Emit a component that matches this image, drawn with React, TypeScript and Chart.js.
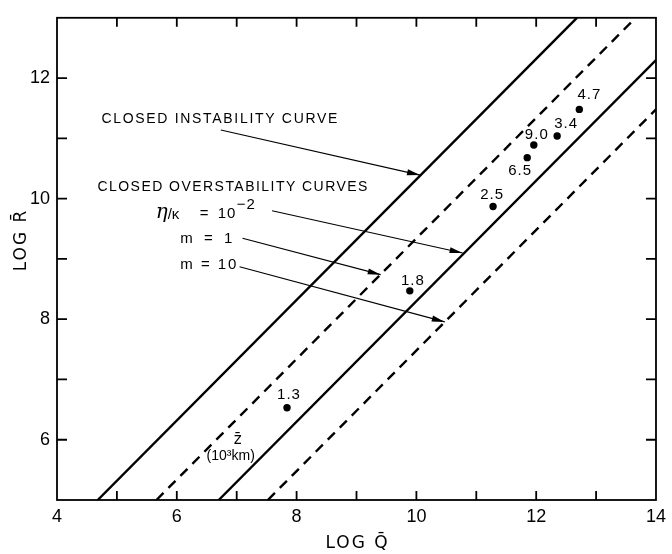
import { useEffect, useRef } from 'react';
import { Chart, registerables } from 'chart.js';

Chart.register(...registerables);

// ---- axis ticks ----
const xTickValues = [4, 6, 8, 10, 12, 14];
const yTickValues = [6, 8, 10, 12];
const xMinorTicks = [5, 6, 7, 8, 9, 10, 11, 12, 13];
const yMinorTicks = [6, 7, 8, 9, 10, 11, 12];

// ---- curves (endpoints, log Q vs log R) ----
const instabilityQ = [4.68, 12.68];
const instabilityR = [5, 13];
const overstabEtaQ = [6.7, 14];
const overstabEtaR = [5, 12.3];
const overstabM1Q = [5.66, 13.66];
const overstabM1R = [5, 13];
const overstabM10Q = [7.52, 14];
const overstabM10R = [5, 11.48];

// ---- observed points ----
const pointQ = [7.84, 9.89, 11.28, 11.85, 11.96, 12.35, 12.72];
const pointR = [6.53, 8.47, 9.87, 10.68, 10.89, 11.04, 11.48];
const pointLabels = ['1.3', '1.8', '2.5', '6.5', '9.0', '3.4', '4.7'];

// ---- annotation texts ----
const instabilityText = 'CLOSED INSTABILITY CURVE';
const overstabText = 'CLOSED OVERSTABILITY CURVES';
const m1Text = 'm = 1';
const m10Text = 'm = 10';
const zText = 'z̄';
const zUnitText = '(10³km)';
const xTitle = 'LOG Q̄';
const yTitle = 'LOG R̄';

const toXY = (qs: number[], rs: number[]) => qs.map((q, i) => ({ x: q, y: rs[i] }));

const FONT = '"Liberation Sans", Arial, sans-serif';

// label offsets for points (pixels): style only
const labelOffsets: [number, number][] = [
  [2, -13], [3, -10], [-1, -12], [-7, 13], [3, -10], [9, -12], [10, -15],
];

function fitText(ctx: CanvasRenderingContext2D, text: string, x: number, y: number, width: number) {
  ctx.letterSpacing = '0px';
  const w = ctx.measureText(text).width;
  const n = Array.from(text).length;
  const sp = n > 1 ? (width - w) / (n - 1) : 0;
  ctx.letterSpacing = sp + 'px';
  ctx.fillText(text, x, y);
  ctx.letterSpacing = '0px';
}

function drawArrow(ctx: CanvasRenderingContext2D, x1: number, y1: number, x2: number, y2: number) {
  ctx.beginPath();
  ctx.moveTo(x1, y1);
  ctx.lineTo(x2, y2);
  ctx.stroke();
  const a = Math.atan2(y2 - y1, x2 - x1);
  const L = 13, W = 3;
  const c = Math.cos(a), s = Math.sin(a);
  ctx.beginPath();
  ctx.moveTo(x2, y2);
  ctx.lineTo(x2 - L * c + W * s, y2 - L * s - W * c);
  ctx.lineTo(x2 - L * c - W * s, y2 - L * s + W * c);
  ctx.closePath();
  ctx.fill();
}

const decorPlugin = {
  id: 'decor',
  afterDraw(chart: any) {
    const ctx: CanvasRenderingContext2D = chart.ctx;
    const xs = chart.scales.x;
    const ys = chart.scales.y;
    const { left, right, top, bottom } = chart.chartArea;
    const px = (v: number) => xs.getPixelForValue(v);
    const py = (v: number) => ys.getPixelForValue(v);
    ctx.save();
    ctx.strokeStyle = '#000';
    ctx.fillStyle = '#000';
    // frame
    ctx.lineWidth = 1.8;
    ctx.strokeRect(left, top, right - left, bottom - top);
    // inward ticks
    ctx.lineWidth = 1.8;
    ctx.beginPath();
    xMinorTicks.forEach((v) => {
      const x = px(v);
      ctx.moveTo(x, bottom);
      ctx.lineTo(x, bottom - 9);
      ctx.moveTo(x, top);
      ctx.lineTo(x, top + 9);
    });
    yMinorTicks.forEach((v) => {
      const y = py(v);
      ctx.moveTo(left, y);
      ctx.lineTo(left + 10, y);
      ctx.moveTo(right, y);
      ctx.lineTo(right - 10, y);
    });
    ctx.stroke();

    // point labels
    ctx.font = `15px ${FONT}`;
    ctx.textAlign = 'center';
    ctx.textBaseline = 'middle';
    ctx.letterSpacing = '1px';
    pointLabels.forEach((t, i) => {
      ctx.fillText(t, px(pointQ[i]) + labelOffsets[i][0], py(pointR[i]) + labelOffsets[i][1]);
    });
    ctx.letterSpacing = '0px';

    // annotations
    ctx.textAlign = 'left';
    ctx.font = `14px ${FONT}`;
    fitText(ctx, instabilityText, px(4.741), py(11.318), 236);
    fitText(ctx, overstabText, px(4.675), py(10.19), 270);

    // eta / kappa = 10^-2
    const ex = px(5.647);
    const ey = py(9.743);
    ctx.font = `italic 20px "DejaVu Serif", serif`;
    ctx.fillText('η', ex, ey - 1);
    ctx.font = `15px ${FONT}`;
    ctx.fillText('/κ', ex + 12, ey + 1);
    ctx.fillText('=', ex + 44, ey);
    ctx.letterSpacing = '1px';
    ctx.fillText('10', ex + 62, ey);
    ctx.font = `15px ${FONT}`;
    ctx.fillText('−2', ex + 81, ey - 9);
    ctx.letterSpacing = '0px';

    ctx.font = `15px ${FONT}`;
    fitText(ctx, m1Text, px(6.059), py(9.327), 52);
    fitText(ctx, m10Text, px(6.059), py(8.894), 56);

    // arrows
    ctx.lineWidth = 1.1;
    drawArrow(ctx, px(6.735), py(11.139), px(10.06), py(10.39));
    drawArrow(ctx, px(7.591), py(9.8), px(10.771), py(9.098));
    drawArrow(ctx, px(7.097), py(9.343), px(9.404), py(8.739));
    drawArrow(ctx, px(7.048), py(8.869), px(10.474), py(7.955));

    // z label
    ctx.textAlign = 'center';
    ctx.font = `15px "DejaVu Sans", sans-serif`;
    ctx.fillText(zText, px(7.015), py(5.996));
    ctx.font = `14px ${FONT}`;
    ctx.fillText(zUnitText, px(6.9), py(5.735));

    // axis titles
    ctx.font = `17px "DejaVu Sans", sans-serif`;
    ctx.textAlign = 'center';
    ctx.textBaseline = 'middle';
    ctx.letterSpacing = '2px';
    ctx.fillText(xTitle, (left + right) / 2 + 1, 544);
    ctx.save();
    ctx.translate(22, 240);
    ctx.rotate(-Math.PI / 2);
    ctx.fillText(yTitle, 0, 0);
    ctx.restore();
    ctx.letterSpacing = '0px';
    ctx.restore();
  },
};

export default function App() {
  const ref = useRef<HTMLCanvasElement | null>(null);
  useEffect(() => {
    if (!ref.current) return;
    const solid = { showLine: true, borderColor: '#000', borderWidth: 2.4, pointRadius: 0 };
    const dashed = { ...solid, borderDash: [10, 7] };
    const chart = new Chart(ref.current, {
      type: 'scatter',
      data: {
        datasets: [
          { label: 'instability', data: toXY(instabilityQ, instabilityR), ...solid },
          { label: 'eta', data: toXY(overstabEtaQ, overstabEtaR), ...solid },
          { label: 'm1', data: toXY(overstabM1Q, overstabM1R), ...dashed },
          { label: 'm10', data: toXY(overstabM10Q, overstabM10R), ...dashed },
          {
            label: 'points',
            data: toXY(pointQ, pointR),
            showLine: false,
            pointRadius: 3.7,
            pointBackgroundColor: '#000',
            pointBorderColor: '#000',
            pointBorderWidth: 0,
          },
        ],
      },
      options: {
        animation: false,
        responsive: false,
        events: [],
        layout: { padding: { top: 10, right: 8, left: 0, bottom: 0 } },
        plugins: { legend: { display: false }, tooltip: { enabled: false } },
        scales: {
          x: {
            type: 'linear',
            min: 4,
            max: 14,
            afterBuildTicks: (s: any) => {
              s.ticks = xTickValues.map((v) => ({ value: v }));
            },
            afterFit: (s: any) => {
              s.height = 54;
            },
            grid: { display: false, drawTicks: false },
            border: { display: false },
            ticks: {
              autoSkip: false,
              maxRotation: 0,
              padding: 6,
              color: '#000',
              font: { family: FONT, size: 18 },
            },
          },
          y: {
            type: 'linear',
            min: 5,
            max: 13,
            afterBuildTicks: (s: any) => {
              s.ticks = yTickValues.map((v) => ({ value: v }));
            },
            afterFit: (s: any) => {
              s.width = 57;
            },
            grid: { display: false, drawTicks: false },
            border: { display: false },
            ticks: {
              autoSkip: false,
              padding: 7,
              color: '#000',
              font: { family: FONT, size: 18 },
            },
          },
        },
      },
      plugins: [decorPlugin],
    });
    return () => chart.destroy();
  }, []);
  return (
    <div style={{ position: 'absolute', left: 0, top: 0, width: 672, height: 554, background: '#fff' }}>
      <canvas ref={ref} width={672} height={554} style={{ display: 'block' }} />
    </div>
  );
}
